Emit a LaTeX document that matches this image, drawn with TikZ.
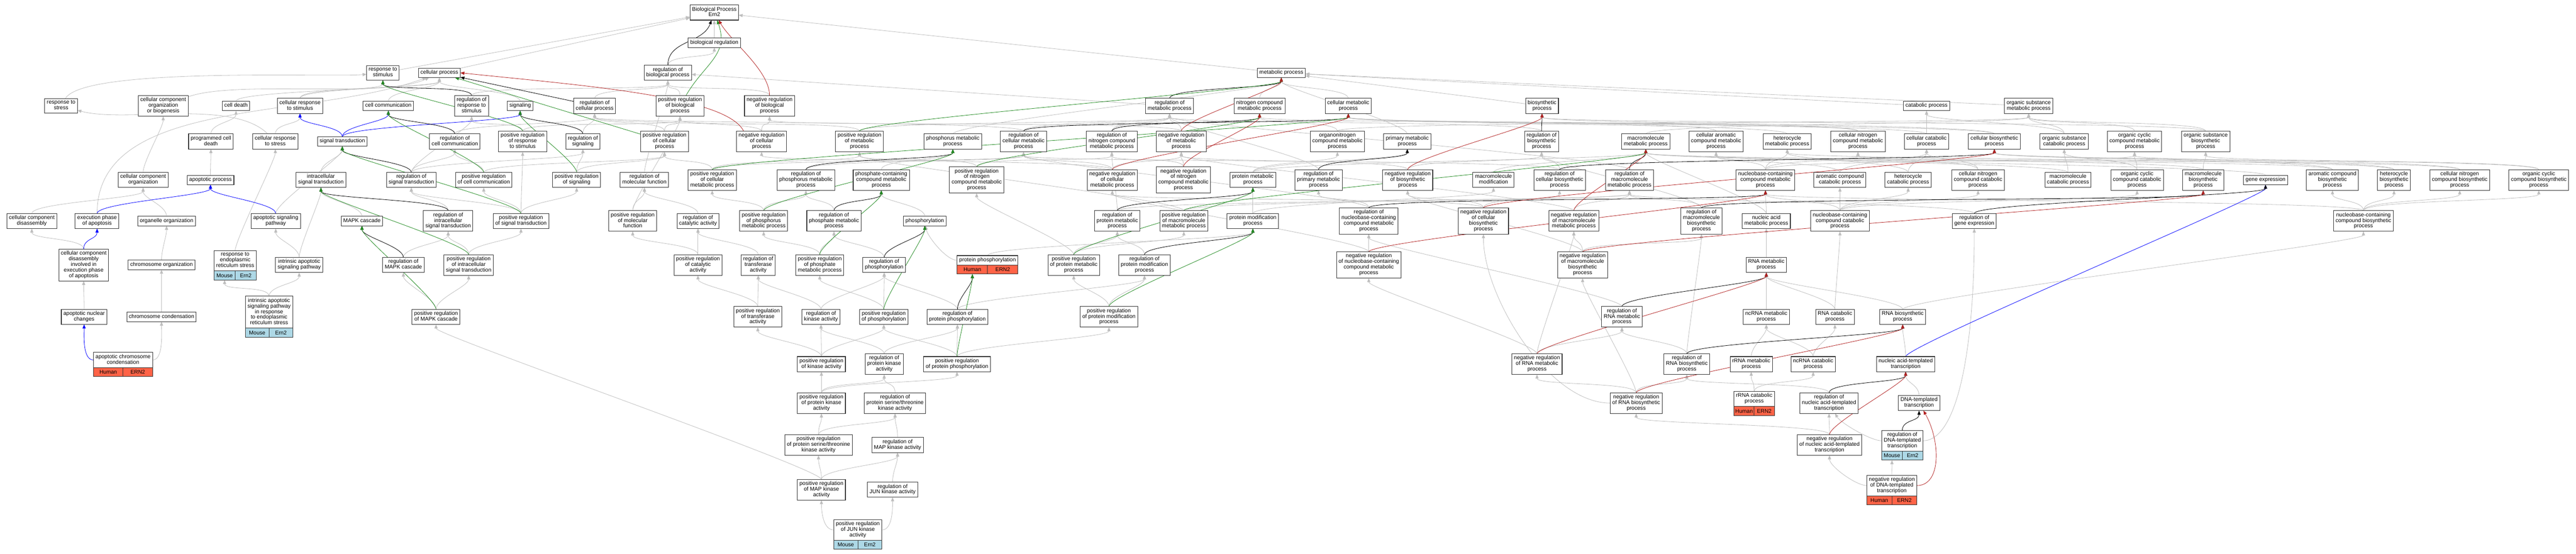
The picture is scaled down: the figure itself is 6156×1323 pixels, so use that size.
\documentclass[tikz,border=0pt]{standalone}
\usepackage{fontspec}
\setmainfont{Liberation Sans}
\usetikzlibrary{arrows.meta, calc, backgrounds}
\definecolor{isagray}{RGB}{190,190,190}
\definecolor{posgreen}{RGB}{34,139,34}
\definecolor{negred}{RGB}{178,34,34}
\definecolor{humanred}{RGB}{255,99,71}
\definecolor{mouseblue}{RGB}{173,216,230}
\tikzset{
  term/.style={draw=black!80, line width=0.32pt, fill=white, align=center, outer sep=0pt,
    inner xsep=1.25pt, inner ysep=1.15pt, font=\fontsize{3.25}{3.35}\selectfont,
    execute at begin node=\strut, execute at end node=\strut},
  orgcell/.style={draw=black!80, line width=0.32pt, inner sep=0pt, outer sep=0pt,
    minimum height=5.4pt, font=\fontsize{3.25}{3.35}\selectfont},
  link/.style={-{Triangle[length=2.4pt,width=1.9pt]}, line width=0.25pt, out=90, in=-90, distance=6.5pt},
  isa/.style={link, draw=isagray},
  partof/.style={link, draw=blue},
  regul/.style={link, draw=black},
  posreg/.style={link, draw=posgreen},
  negreg/.style={link, draw=negred}
}
\newcommand{\orgrow}[4]{%
  \path let \p1=(#1.south west), \p2=(#1.south east) in
    node[orgcell, fill=#2, minimum width={(\x2-\x1)/2}, anchor=north west] (#1-l) at (\p1) {#3}
    node[orgcell, fill=#2, minimum width={(\x2-\x1)/2}, anchor=north east] (#1-r) at (\p2) {#4};
}

\begin{document}
\begin{tikzpicture}[x=0.25pt, y=-0.25pt]
\useasboundingbox (0,0) rectangle (6156,1323);

\node[term] (bp) at (1707,30) {Biological Process\\Ern2};
\node[term] (breg) at (1707,102) {biological regulation};

\node[term] (rstim) at (915,174) {response to\\stimulus};
\node[term] (cproc) at (1050,174) {cellular process};
\node[term] (rbp) at (1596,174) {regulation of\\biological process};
\node[term] (mproc) at (3062,174) {metabolic process};

\node[term] (rstress) at (146,253) {response to\\stress};
\node[term] (ccob) at (390,253) {cellular component\\organization\\or biogenesis};
\node[term] (cdeath) at (564,253) {cell death};
\node[term] (crstim) at (717,253) {cellular response\\to stimulus};
\node[term] (ccomm) at (928,253) {cell communication};
\node[term] (rrstim) at (1127,253) {regulation of\\response to\\stimulus};
\node[term] (signaling) at (1243,253) {signaling};
\node[term] (rcp) at (1421,253) {regulation of\\cellular process};
\node[term] (prbp) at (1625,253) {positive regulation\\of biological\\process};
\node[term] (nrbp) at (1839,253) {negative regulation\\of biological\\process};
\node[term] (rmp) at (2795,253) {regulation of\\metabolic process};
\node[term] (ncmp) at (3010,253) {nitrogen compound\\metabolic process};
\node[term] (cmp) at (3222,253) {cellular metabolic\\process};
\node[term] (biosyn) at (3685,253) {biosynthetic\\process};
\node[term] (catab) at (4604,253) {catabolic process};
\node[term] (osmp) at (4848,253) {organic substance\\metabolic process};

\node[term] (pcd) at (504,338) {programmed cell\\death};
\node[term] (crstress) at (658,338) {cellular response\\to stress};
\node[term] (sigtr) at (818,338) {signal transduction};
\node[term] (rccomm) at (1087,338) {regulation of\\cell communication};
\node[term] (prrstim) at (1249,338) {positive regulation\\of response\\to stimulus};
\node[term] (rsig) at (1393,338) {regulation of\\signaling};
\node[term] (prcp) at (1588,338) {positive regulation\\of cellular\\process};
\node[term] (nrcp) at (1820,338) {negative regulation\\of cellular\\process};
\node[term] (prmp) at (2054,338) {positive regulation\\of metabolic\\process};
\node[term] (phmp) at (2277,338) {phosphorus metabolic\\process};
\node[term] (rcmp) at (2446,338) {regulation of\\cellular metabolic\\process};
\node[term] (rncmp) at (2657,338) {regulation of\\nitrogen compound\\metabolic process};
\node[term] (nrmp) at (2823,338) {negative regulation\\of metabolic\\process};
\node[term] (oncmp) at (3196,338) {organonitrogen\\compound metabolic\\process};
\node[term] (primp) at (3363,338) {primary metabolic\\process};
\node[term] (rbiosyn) at (3684,338) {regulation of\\biosynthetic\\process};
\node[term] (mmp) at (3933,338) {macromolecule\\metabolic process};
\node[term] (camp) at (4101,338) {cellular aromatic\\compound metabolic\\process};
\node[term] (hmp) at (4271,338) {heterocycle\\metabolic process};
\node[term] (cncmp) at (4440,338) {cellular nitrogen\\compound metabolic\\process};
\node[term] (ccatab) at (4604,338) {cellular catabolic\\process};
\node[term] (cbiosyn) at (4766,338) {cellular biosynthetic\\process};
\node[term] (oscp) at (4933,338) {organic substance\\catabolic process};
\node[term] (occmp) at (5101,338) {organic cyclic\\compound metabolic\\process};
\node[term] (osbp) at (5271,338) {organic substance\\biosynthetic\\process};

\node[term] (cco) at (342,430) {cellular component\\organization};
\node[term] (apop) at (503,430) {apoptotic process};
\node[term] (intra) at (767,430) {intracellular\\signal transduction};
\node[term] (rsigtr) at (983,430) {regulation of\\signal transduction};
\node[term] (prccomm) at (1156,430) {positive regulation\\of cell communication};
\node[term] (prsig) at (1378,430) {positive regulation\\of signaling};
\node[term] (rmf) at (1540,430) {regulation of\\molecular function};
\node[term] (prcmp) at (1702,430) {positive regulation\\of cellular\\metabolic process};
\node[term] (rphmp) at (1926,430) {regulation of\\phosphorus metabolic\\process};
\node[term] (phcmp) at (2106,430) {phosphate-containing\\compound metabolic\\process};
\node[term] (prncmp) at (2334,430) {positive regulation\\of nitrogen\\compound metabolic\\process};
\node[term] (nrcmp) at (2658,430) {negative regulation\\of cellular\\metabolic process};
\node[term] (nrncmp) at (2828,430) {negative regulation\\of nitrogen\\compound metabolic\\process};
\node[term] (pmp) at (2994,430) {protein metabolic\\process};
\node[term] (rprimp) at (3151,430) {regulation of\\primary metabolic\\process};
\node[term] (nrbiosyn) at (3364,430) {negative regulation\\of biosynthetic\\process};
\node[term] (mmod) at (3569,430) {macromolecule\\modification};
\node[term] (rcbiosyn) at (3727,430) {regulation of\\cellular biosynthetic\\process};
\node[term] (rmmp) at (3894,430) {regulation of\\macromolecule\\metabolic process};
\node[term] (nbcmp) at (4219,430) {nucleobase-containing\\compound metabolic\\process};
\node[term] (acatab) at (4397,430) {aromatic compound\\catabolic process};
\node[term] (hcatab) at (4560,430) {heterocycle\\catabolic process};
\node[term] (cnccatab) at (4727,430) {cellular nitrogen\\compound catabolic\\process};
\node[term] (mcatab) at (4942,430) {macromolecule\\catabolic process};
\node[term] (occatab) at (5107,430) {organic cyclic\\compound catabolic\\process};
\node[term] (mbiosyn) at (5265,430) {macromolecule\\biosynthetic\\process};
\node[term] (gexp) at (5414,430) {gene expression};
\node[term] (acbiosyn) at (5574,430) {aromatic compound\\biosynthetic\\process};
\node[term] (hbiosyn) at (5721,430) {heterocycle\\biosynthetic\\process};
\node[term] (cncbiosyn) at (5878,430) {cellular nitrogen\\compound biosynthetic\\process};
\node[term] (occbiosyn) at (6067,430) {organic cyclic\\compound biosynthetic\\process};

\node[term] (ccd) at (76,528) {cellular component\\disassembly};
\node[term] (exap) at (232,528) {execution phase\\of apoptosis};
\node[term] (orgo) at (398,528) {organelle organization};
\node[term] (asp) at (659,528) {apoptotic signaling\\pathway};
\node[term] (mapk) at (865,528) {MAPK cascade};
\node[term] (rintra) at (1071,528) {regulation of\\intracellular\\signal transduction};
\node[term] (prsigtr) at (1245,528) {positive regulation\\of signal transduction};
\node[term] (prmf) at (1512,528) {positive regulation\\of molecular\\function};
\node[term] (rcat) at (1668,528) {regulation of\\catalytic activity};
\node[term] (prphmp) at (1825,528) {positive regulation\\of phosphorus\\metabolic process};
\node[term] (rphtmp) at (1993,528) {regulation of\\phosphate metabolic\\process};
\node[term] (phos) at (2210,528) {phosphorylation};
\node[term] (rpmp) at (2670,528) {regulation of\\protein metabolic\\process};
\node[term] (prmmp) at (2829,528) {positive regulation\\of macromolecule\\metabolic process};
\node[term] (pmod) at (2994,528) {protein modification\\process};
\node[term] (rnbcmp) at (3271,528) {regulation of\\nucleobase-containing\\compound metabolic\\process};
\node[term] (nrcbiosyn) at (3545,528) {negative regulation\\of cellular\\biosynthetic\\process};
\node[term] (nrmmp) at (3761,528) {negative regulation\\of macromolecule\\metabolic process};
\node[term] (rmbiosyn) at (4066,528) {regulation of\\macromolecule\\biosynthetic\\process};
\node[term] (namp) at (4221,528) {nucleic acid\\metabolic process};
\node[term] (nbccatab) at (4397,528) {nucleobase-containing\\compound catabolic\\process};
\node[term] (rgexp) at (4718,528) {regulation of\\gene expression};
\node[term] (nbcbiosyn) at (5648,528) {nucleobase-containing\\compound biosynthetic\\process};

\node[term] (ccdexap) at (200,633) {cellular component\\disassembly\\involved in\\execution phase\\of apoptosis};
\node[term] (chrorg) at (386,633) {chromosome organization};
\node[term] (rers) at (562,623) {response to\\endoplasmic\\reticulum stress};
\orgrow{rers}{mouseblue}{Mouse}{Ern2}
\node[term] (iasp) at (715,633) {intrinsic apoptotic\\signaling pathway};
\node[term] (rmapk) at (964,633) {regulation of\\MAPK cascade};
\node[term] (printra) at (1120,633) {positive regulation\\of intracellular\\signal transduction};
\node[term] (prcat) at (1668,633) {positive regulation\\of catalytic\\activity};
\node[term] (rtrans) at (1812,633) {regulation of\\transferase\\activity};
\node[term] (prphtmp) at (1959,633) {positive regulation\\of phosphate\\metabolic process};
\node[term] (rphos) at (2113,633) {regulation of\\phosphorylation};
\node[term] (pphos) at (2360,622) {protein phosphorylation};
\orgrow{pphos}{humanred}{Human}{ERN2}
\node[term] (prpmp) at (2566,633) {positive regulation\\of protein metabolic\\process};
\node[term] (rpmod) at (2735,633) {regulation of\\protein modification\\process};
\node[term] (nrnbcmp) at (3271,633) {negative regulation\\of nucleobase-containing\\compound metabolic\\process};
\node[term] (nrmbiosyn) at (3782,633) {negative regulation\\of macromolecule\\biosynthetic\\process};
\node[term] (rnamp) at (4221,633) {RNA metabolic\\process};

\node[term] (anc) at (201,757) {apoptotic nuclear\\changes};
\node[term] (chrcond) at (386,757) {chromosome condensation};
\node[term] (iaspers) at (643,746) {intrinsic apoptotic\\signaling pathway\\in response\\to endoplasmic\\reticulum stress};
\orgrow{iaspers}{mouseblue}{Mouse}{Ern2}
\node[term] (prmapk) at (1042,757) {positive regulation\\of MAPK cascade};
\node[term] (prtrans) at (1811,757) {positive regulation\\of transferase\\activity};
\node[term] (rkin) at (1962,757) {regulation of\\kinase activity};
\node[term] (prphos) at (2112,757) {positive regulation\\of phosphorylation};
\node[term] (rpphos) at (2288,757) {regulation of\\protein phosphorylation};
\node[term] (prpmod) at (2650,757) {positive regulation\\of protein modification\\process};
\node[term] (rrnamp) at (3876,757) {regulation of\\RNA metabolic\\process};
\node[term] (ncrnamp) at (4221,757) {ncRNA metabolic\\process};
\node[term] (rnacat) at (4385,757) {RNA catabolic\\process};
\node[term] (rnabio) at (4547,757) {RNA biosynthetic\\process};

\node[term] (acc) at (294,860) {apoptotic chromosome\\condensation};
\orgrow{acc}{humanred}{Human}{ERN2}
\node[term] (prkin) at (1963,870) {positive regulation\\of kinase activity};
\node[term] (rpkin) at (2113,870) {regulation of\\protein kinase\\activity};
\node[term] (prpphos) at (2287,870) {positive regulation\\of protein phosphorylation};
\node[term] (nrrnamp) at (3673,870) {negative regulation\\of RNA metabolic\\process};
\node[term] (rrnabio) at (4031,870) {regulation of\\RNA biosynthetic\\process};
\node[term] (rrnametab) at (4185,870) {rRNA metabolic\\process};
\node[term] (ncrnacat) at (4333,870) {ncRNA catabolic\\process};
\node[term] (natt) at (4554,870) {nucleic acid-templated\\transcription};

\node[term] (prpkin) at (1963,963) {positive regulation\\of protein kinase\\activity};
\node[term] (rpstk) at (2139,963) {regulation of\\protein serine/threonine\\kinase activity};
\node[term] (nrrnabio) at (3910,963) {negative regulation\\of RNA biosynthetic\\process};
\node[term] (rrnacat) at (4192,953) {rRNA catabolic\\process};
\orgrow{rrnacat}{humanred}{Human}{ERN2}
\node[term] (rnatt) at (4371,963) {regulation of\\nucleic acid-templated\\transcription};
\node[term] (dtt) at (4586,963) {DNA-templated\\transcription};

\node[term] (prpstk) at (1956,1063) {positive regulation\\of protein serine/threonine\\kinase activity};
\node[term] (rmapkin) at (2145,1063) {regulation of\\MAP kinase activity};
\node[term] (nrnatt) at (4372,1063) {negative regulation\\of nucleic acid-templated\\transcription};
\node[term] (rdtt) at (4546,1053) {regulation of\\DNA-templated\\transcription};
\orgrow{rdtt}{mouseblue}{Mouse}{Ern2}

\node[term] (prmapkin) at (1963,1170) {positive regulation\\of MAP kinase\\activity};
\node[term] (rjun) at (2133,1170) {regulation of\\JUN kinase activity};
\node[term] (nrdtt) at (4521,1160) {negative regulation\\of DNA-templated\\transcription};
\orgrow{nrdtt}{humanred}{Human}{ERN2}

\node[term] (prjun) at (2050,1266) {positive regulation\\of JUN kinase\\activity};
\orgrow{prjun}{mouseblue}{Mouse}{Ern2}

\begin{scope}[on background layer]
\draw[isa] (rstim) -- (bp);
\draw[isa] (cproc) -- (bp);
\draw[isa] (breg) to (bp);
\draw[isa] (mproc) -- (bp);
\draw[isa] (rbp) to (breg);
\draw[isa, out=60, in=185, distance=22pt] (rstress) to (rstim);
\draw[isa] (crstim) to (rstim);
\draw[isa] (crstim) to (cproc);
\draw[isa, out=20, in=205, distance=30pt] (ccob) to (cproc);
\draw[isa] (cdeath) to (cproc);
\draw[isa] (ccomm) to (cproc);
\draw[isa] (signaling) to (cproc);
\draw[isa, out=90, in=200, out distance=70pt, in distance=75pt] (exap) to (cproc);
\draw[isa] (rrstim) to (rbp);
\draw[isa] (rcp) to (rbp);
\draw[isa] (prbp) to (rbp);
\draw[isa] (nrbp) to (rbp);
\draw[isa] (rmp) -- (rbp);
\draw[isa] (rmf) to (rbp);
\draw[isa] (ncmp) to (mproc);
\draw[isa] (cmp) to (mproc);
\draw[isa] (biosyn) -- (mproc);
\draw[isa] (catab) -- (mproc);
\draw[isa] (osmp) -- (mproc);
\draw[isa] (primp) to (mproc);
\draw[isa] (phmp) to (mproc);
\draw[isa] (pcd) to (cdeath);
\draw[isa, out=135, in=-15, distance=30pt] (crstress) to (rstress);
\draw[isa] (crstress) to (crstim);
\draw[isa] (rccomm) to (rcp);
\draw[isa] (prrstim) to (rrstim);
\draw[isa] (prrstim) to (prbp);
\draw[isa] (rsig) to (rcp);
\draw[isa] (prcp) to (rcp);
\draw[isa] (prcp) to (prbp);
\draw[isa] (nrcp) to (rcp);
\draw[isa] (nrcp) to (nrbp);
\draw[isa] (prmp) to (rmp);
\draw[isa] (prmp) to (prbp);
\draw[isa] (rcmp) to (rmp);
\draw[isa] (rcmp) to (rcp);
\draw[isa] (rncmp) to (rmp);
\draw[isa] (nrmp) to (rmp);
\draw[isa] (nrmp) to (nrbp);
\draw[isa] (oncmp) to (ncmp);
\draw[isa] (oncmp) to (osmp);
\draw[isa] (rbiosyn) to (rmp);
\draw[isa] (mmp) to (osmp);
\draw[isa] (camp) to (cmp);
\draw[isa] (hmp) to (cmp);
\draw[isa] (cncmp) to (ncmp);
\draw[isa] (cncmp) to (cmp);
\draw[isa] (ccatab) to (catab);
\draw[isa] (ccatab) to (cmp);
\draw[isa] (cbiosyn) to (biosyn);
\draw[isa] (cbiosyn) to (cmp);
\draw[isa] (oscp) to (osmp);
\draw[isa] (oscp) to (catab);
\draw[isa] (occmp) to (osmp);
\draw[isa] (osbp) to (osmp);
\draw[isa] (osbp) to (biosyn);
\draw[isa] (cco) to (ccob);
\draw[isa] (apop) to (pcd);
\draw[isa] (intra) to (sigtr);
\draw[isa] (rsigtr) to (rccomm);
\draw[isa] (rsigtr) to (rsig);
\draw[isa] (rsigtr) to (rrstim);
\draw[isa] (prccomm) to (rccomm);
\draw[isa] (prccomm) to (prcp);
\draw[isa] (prsig) to (rsig);
\draw[isa] (prsig) to (prcp);
\draw[isa] (prcmp) to (prcp);
\draw[isa] (prcmp) to (rcmp);
\draw[isa] (prcmp) to (prmp);
\draw[isa] (rphmp) to (rcmp);
\draw[isa] (phcmp) to (phmp);
\draw[isa] (prncmp) to (rncmp);
\draw[isa] (prncmp) to (prmp);
\draw[isa] (nrcmp) to (rcmp);
\draw[isa] (nrcmp) to (nrmp);
\draw[isa] (nrcmp) to (nrcp);
\draw[isa] (nrncmp) to (rncmp);
\draw[isa] (nrncmp) to (nrmp);
\draw[isa] (pmp) to (mmp);
\draw[isa] (pmp) to (oncmp);
\draw[isa] (pmp) to (primp);
\draw[isa] (rprimp) to (rmp);
\draw[isa] (nrbiosyn) to (rbiosyn);
\draw[isa] (nrbiosyn) to (nrmp);
\draw[isa] (mmod) to (mmp);
\draw[isa] (rcbiosyn) to (rbiosyn);
\draw[isa] (rcbiosyn) to (rcmp);
\draw[isa] (rmmp) to (rmp);
\draw[isa] (nbcmp) to (camp);
\draw[isa] (nbcmp) to (hmp);
\draw[isa] (nbcmp) to (cncmp);
\draw[isa] (nbcmp) to (occmp);
\draw[isa] (acatab) to (camp);
\draw[isa] (acatab) to (ccatab);
\draw[isa] (hcatab) to (hmp);
\draw[isa] (hcatab) to (ccatab);
\draw[isa] (cnccatab) to (cncmp);
\draw[isa] (cnccatab) to (ccatab);
\draw[isa] (mcatab) to (oscp);
\draw[isa] (mcatab) to (mmp);
\draw[isa] (occatab) to (occmp);
\draw[isa] (occatab) to (oscp);
\draw[isa] (mbiosyn) to (osbp);
\draw[isa] (mbiosyn) to (mmp);
\draw[isa] (gexp) to (mmp);
\draw[isa] (acbiosyn) to (camp);
\draw[isa] (acbiosyn) to (cbiosyn);
\draw[isa] (hbiosyn) to (hmp);
\draw[isa] (hbiosyn) to (cbiosyn);
\draw[isa] (cncbiosyn) to (cncmp);
\draw[isa] (cncbiosyn) to (cbiosyn);
\draw[isa] (occbiosyn) to (occmp);
\draw[isa] (occbiosyn) to (osbp);
\draw[isa] (ccd) to (cco);
\draw[isa] (orgo) to (cco);
\draw[isa] (asp) to (sigtr);
\draw[isa] (mapk) to (intra);
\draw[isa] (rintra) to (rsigtr);
\draw[isa] (prsigtr) to (prsig);
\draw[isa] (prsigtr) to (rsigtr);
\draw[isa] (prsigtr) to (prccomm);
\draw[isa] (prsigtr) to (prrstim);
\draw[isa] (prmf) to (rmf);
\draw[isa] (prmf) to (prbp);
\draw[isa] (rcat) to (rmf);
\draw[isa] (prphmp) to (prcmp);
\draw[isa] (prphmp) to (rphmp);
\draw[isa] (rphtmp) to (rphmp);
\draw[isa] (phos) to (phcmp);
\draw[isa] (rpmp) to (rmmp);
\draw[isa] (rpmp) to (rncmp);
\draw[isa] (prmmp) to (rmmp);
\draw[isa] (prmmp) to (prmp);
\draw[isa] (pmod) to (pmp);
\draw[isa] (pmod) to (mmod);
\draw[isa] (rnbcmp) to (rprimp);
\draw[isa] (rnbcmp) to (rcmp);
\draw[isa] (nrcbiosyn) to (nrbiosyn);
\draw[isa] (nrcbiosyn) to (rcbiosyn);
\draw[isa] (nrcbiosyn) to (nrcmp);
\draw[isa] (nrmmp) to (rmmp);
\draw[isa] (nrmmp) to (nrmp);
\draw[isa] (rmbiosyn) to (rmmp);
\draw[isa] (rmbiosyn) to (rbiosyn);
\draw[isa] (namp) to (nbcmp);
\draw[isa] (namp) to (mmp);
\draw[isa] (nbccatab) to (nbcmp);
\draw[isa] (nbccatab) to (acatab);
\draw[isa] (nbccatab) to (hcatab);
\draw[isa] (nbccatab) to (cnccatab);
\draw[isa] (nbccatab) to (occatab);
\draw[isa] (rgexp) to (rmmp);
\draw[isa] (nbcbiosyn) to (acbiosyn);
\draw[isa] (nbcbiosyn) to (hbiosyn);
\draw[isa] (nbcbiosyn) to (cncbiosyn);
\draw[isa] (nbcbiosyn) to (occbiosyn);
\draw[isa] (nbcbiosyn) to (nbcmp);
\draw[isa] (ccdexap) to (ccd);
\draw[isa] (chrorg) to (orgo);
\draw[isa] (rers) to (crstress);
\draw[isa] (iasp) to (asp);
\draw[isa] (iasp) to (intra);
\draw[isa] (rmapk) to (rintra);
\draw[isa] (printra) to (rintra);
\draw[isa] (printra) to (prsigtr);
\draw[isa] (prcat) to (prmf);
\draw[isa] (prcat) to (rcat);
\draw[isa] (rtrans) to (rcat);
\draw[isa] (prphtmp) to (prphmp);
\draw[isa] (prphtmp) to (rphtmp);
\draw[isa] (rphos) to (rphtmp);
\draw[isa, out=180, in=-80] (pphos) to (phos);
\draw[isa] (pphos) to (pmod);
\draw[isa] (prpmp) to (rpmp);
\draw[isa] (prpmp) to (prncmp);
\draw[isa] (prpmp) to (prmmp);
\draw[isa] (rpmod) to (rpmp);
\draw[isa] (nrnbcmp) to (rnbcmp);
\draw[isa] (nrnbcmp) to (nrcmp);
\draw[isa] (nrmbiosyn) to (nrmmp);
\draw[isa] (nrmbiosyn) to (rmbiosyn);
\draw[isa] (nrmbiosyn) to (nrbiosyn);
\draw[isa] (rnamp) to (namp);
\draw[isa] (anc) to (ccdexap);
\draw[isa] (chrcond) to (chrorg);
\draw[isa] (iaspers) to (rers-l);
\draw[isa] (iaspers) to (iasp);
\draw[isa] (prmapk) to (rmapk);
\draw[isa] (prmapk) to (printra);
\draw[isa] (prtrans) to (rtrans);
\draw[isa] (prtrans) to (prcat);
\draw[isa] (rkin) to (rtrans);
\draw[isa] (rkin) to (rphos);
\draw[isa] (prphos) to (rphos);
\draw[isa] (prphos) to (prphtmp);
\draw[isa] (rpphos) to (rphos);
\draw[isa] (rpphos) to (rpmod);
\draw[isa] (prpmod) to (rpmod);
\draw[isa] (prpmod) to (prpmp);
\draw[isa] (rrnamp) to (rnbcmp);
\draw[isa] (ncrnamp) to (rnamp);
\draw[isa] (rnacat) to (rnamp);
\draw[isa] (rnacat) to (nbccatab);
\draw[isa] (rnabio) to (rnamp);
\draw[isa] (rnabio) to (nbcbiosyn);
\draw[isa, out=0, in=-90] (acc) to (chrcond);
\draw[isa] (prkin) to (prtrans);
\draw[isa] (prkin) to (rkin);
\draw[isa] (prkin) to (prphos);
\draw[isa] (rpkin) to (rkin);
\draw[isa] (rpkin) to (rpphos);
\draw[isa] (prpphos) to (rpphos);
\draw[isa] (prpphos) to (prphos);
\draw[isa] (prpphos) to (prpmod);
\draw[isa] (nrrnamp) to (nrnbcmp);
\draw[isa] (nrrnamp) to (rrnamp);
\draw[isa] (nrrnamp) to (nrmmp);
\draw[isa] (rrnabio) to (rrnamp);
\draw[isa] (rrnabio) to (rmbiosyn);
\draw[isa] (rrnametab) to (ncrnamp);
\draw[isa] (ncrnacat) to (ncrnamp);
\draw[isa] (ncrnacat) to (rnacat);
\draw[isa] (natt) to (rnabio);
\draw[isa] (prpkin) to (prkin);
\draw[isa] (prpkin) to (rpkin);
\draw[isa] (prpkin) to (prpphos);
\draw[isa] (rpstk) to (rpkin);
\draw[isa] (nrrnabio) to (nrrnamp);
\draw[isa] (nrrnabio) to (rrnabio);
\draw[isa] (nrrnabio) to (nrmbiosyn);
\draw[isa, out=180, in=-90, distance=37pt] (nrrnabio) to (nrcbiosyn);
\draw[isa] (rrnacat) to (rrnametab);
\draw[isa] (rrnacat) to (ncrnacat);
\draw[isa] (rnatt) to (rrnabio);
\draw[isa] (dtt) to (natt);
\draw[isa] (prpstk) to (prpkin);
\draw[isa] (prpstk) to (rpstk);
\draw[isa] (rmapkin) to (rpstk);
\draw[isa] (nrnatt) to (rnatt);
\draw[isa] (nrnatt) to (nrrnabio);
\draw[isa, out=180, in=-60] (rdtt) to (rnatt);
\draw[isa, out=0, in=-90, out distance=20pt, in distance=75pt] (rdtt) to (rgexp);
\draw[isa] (prmapkin) to (prmapk);
\draw[isa] (prmapkin) to (prpstk);
\draw[isa] (prmapkin) to (rmapkin);
\draw[isa] (rjun) to (rmapkin);
\draw[isa] (nrdtt) to (rdtt-l);
\draw[isa, out=180, in=-90] (nrdtt) to (nrnatt);
\draw[isa, out=180, in=-90] (prjun) to (prmapkin);
\draw[isa, out=0, in=-90] (prjun) to (rjun);

\draw[partof] (sigtr) to (crstim);
\draw[partof] (sigtr) to (ccomm);
\draw[partof] (sigtr) to (signaling);
\draw[partof] (exap) to (apop);
\draw[partof] (asp) to (apop);
\draw[partof] (ccdexap) to (exap);
\draw[partof, out=180, in=-90] (acc) to (anc);
\draw[partof] (natt) to (gexp);

\draw[regul, out=90, in=-110, distance=15pt] (rbp) to (bp);
\draw[regul] (rrstim) to (rstim);
\draw[regul] (rcp) -- (cproc);
\draw[regul] (rmp) to (mproc);
\draw[regul] (rccomm) to (ccomm);
\draw[regul] (rsig) to (signaling);
\draw[regul] (rcmp) to (cmp);
\draw[regul] (rncmp) to (ncmp);
\draw[regul] (rbiosyn) to (biosyn);
\draw[regul] (rsigtr) to (sigtr);
\draw[regul] (rphmp) to (phmp);
\draw[regul] (rprimp) to (primp);
\draw[regul] (rcbiosyn) to (cbiosyn);
\draw[regul] (rmmp) to (mmp);
\draw[regul] (rintra) to (intra);
\draw[regul] (rphtmp) to (phcmp);
\draw[regul] (rpmp) to (pmp);
\draw[regul] (rnbcmp) to (nbcmp);
\draw[regul] (rmbiosyn) to (mbiosyn);
\draw[regul] (rgexp) to (gexp);
\draw[regul] (rmapk) to (mapk);
\draw[regul] (rphos) to (phos);
\draw[regul] (rpmod) to (pmod);
\draw[regul] (rpphos) to (pphos-l);
\draw[regul] (rrnamp) to (rnamp);
\draw[regul] (rrnabio) to (rnabio);
\draw[regul] (rnatt) to (natt);
\draw[regul] (rdtt) to (dtt);

\draw[posreg, out=60, in=-70, distance=22pt] (prbp) to (bp);
\draw[posreg] (prrstim) to (rstim);
\draw[posreg] (prcp) -- (cproc);
\draw[posreg] (prmp) to (mproc);
\draw[posreg] (prccomm) to (ccomm);
\draw[posreg] (prsig) to (signaling);
\draw[posreg] (prcmp) to (cmp);
\draw[posreg] (prncmp) to (ncmp);
\draw[posreg] (prsigtr) to (sigtr);
\draw[posreg] (prphmp) to (phmp);
\draw[posreg] (prmmp) to (mmp);
\draw[posreg] (printra) to (intra);
\draw[posreg] (prphtmp) to (phcmp);
\draw[posreg] (prpmp) to (pmp);
\draw[posreg] (prmapk) to (mapk);
\draw[posreg] (prphos) to (phos);
\draw[posreg] (prpmod) to (pmod);
\draw[posreg] (prpphos) to (pphos-l);

\draw[negreg, out=90, in=-60, distance=15pt] (nrbp) to (bp);
\draw[negreg] (nrcp.150) .. controls (1735,230) and (1400,205) .. (cproc.east);
\draw[negreg] (nrmp) to (mproc);
\draw[negreg] (nrcmp) to (cmp);
\draw[negreg] (nrncmp) to (ncmp);
\draw[negreg] (nrbiosyn) to (biosyn);
\draw[negreg] (nrcbiosyn) to (cbiosyn);
\draw[negreg] (nrmmp) to (mmp);
\draw[negreg] (nrnbcmp) to (nbcmp);
\draw[negreg] (nrmbiosyn) to (mbiosyn);
\draw[negreg] (nrrnamp) to (rnamp);
\draw[negreg] (nrrnabio) to (rnabio);
\draw[negreg] (nrnatt) to (natt);
\draw[negreg, out=0, in=-60, out distance=15pt, in distance=20pt] (nrdtt) to (dtt);
\end{scope}

\end{tikzpicture}
\end{document}
